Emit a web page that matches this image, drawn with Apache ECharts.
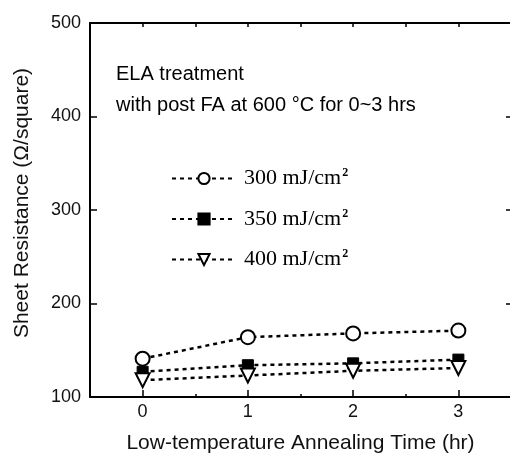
<!DOCTYPE html>
<html>
<head>
<meta charset="utf-8">
<script src="https://cdn.jsdelivr.net/npm/echarts@6/dist/echarts.min.js"></script>
<style>
html,body{margin:0;padding:0;background:#fff;}
#c{width:510px;height:455px;}
</style>
</head>
<body>
<div id="c"></div>
<script>
// ---- data ----
const times = [0, 1, 2, 3];
const r300 = [141, 164, 168, 171];
const r350 = [127, 134, 136, 140];
const r400 = [118, 123, 128, 131];
const seriesNames = ['300 mJ/cm2', '350 mJ/cm2', '400 mJ/cm2'];
const xTickLabels = [0, 1, 2, 3];
const yTicks = [100, 200, 300, 400, 500];
const xTitle = 'Low-temperature Annealing Time (hr)';
const yTitle = 'Sheet Resistance (\u03A9/square)';
const note1 = 'ELA treatment';
const note2 = 'with post FA at 600 \u00B0C for 0~3 hrs';

const pts = v => times.map((t, i) => [t, v[i]]);
const sans = 'Liberation Sans, Arial, sans-serif';
const serif = 'Liberation Serif, Times New Roman, serif';
const dash = { color: '#000', width: 2.5, type: [4, 4] };

const chart = echarts.init(document.getElementById('c'));
chart.setOption({
  animation: false,
  backgroundColor: '#fff',
  grid: { left: 90, right: -1, top: 23, bottom: 58, containLabel: false, outerBoundsMode: 'none' },
  xAxis: [
    {
      type: 'value', min: -0.5, max: 3.5, interval: 0.5, position: 'bottom',
      name: xTitle, nameLocation: 'middle', nameGap: 36,
      nameTextStyle: { fontFamily: sans, fontSize: 21, color: '#111' },
      axisLine: { show: true, onZero: false, lineStyle: { color: '#000', width: 2 } },
      axisTick: { show: true, inside: true, length: 7, customValues: xTickLabels, lineStyle: { color: '#000', width: 1.5 } },
      axisLabel: { customValues: xTickLabels, margin: 6, fontFamily: sans, fontSize: 18, color: '#111' },
      splitLine: { show: false }
    },
    {
      type: 'value', min: -0.5, max: 3.5, interval: 0.5, position: 'bottom',
      axisLine: { show: false, onZero: false },
      axisTick: { show: true, inside: true, length: 3, lineStyle: { color: '#000', width: 1.5 } },
      axisLabel: { show: false },
      splitLine: { show: false }
    },
    {
      type: 'value', min: -0.5, max: 3.5, interval: 0.5, position: 'top',
      axisLine: { show: true, onZero: false, lineStyle: { color: '#000', width: 2 } },
      axisTick: { show: true, inside: true, length: 4, lineStyle: { color: '#000', width: 1.5 } },
      axisLabel: { show: false },
      splitLine: { show: false }
    }
  ],
  yAxis: [
    {
      type: 'value', min: 100, max: 500, interval: 100, position: 'left',
      name: yTitle, nameLocation: 'middle', nameGap: 57,
      nameTextStyle: { fontFamily: sans, fontSize: 21, color: '#111', padding: [0, 0, 0, 14] },
      axisLine: { show: true, onZero: false, lineStyle: { color: '#000', width: 2 } },
      axisTick: { show: true, inside: true, length: 7, lineStyle: { color: '#000', width: 1.5 } },
      axisLabel: { margin: 9, fontFamily: sans, fontSize: 18, color: '#111', padding: [0, 0, 4, 0] },
      splitLine: { show: false }
    },
    {
      type: 'value', min: 100, max: 500, interval: 100, position: 'right',
      axisLine: { show: true, onZero: false, lineStyle: { color: '#000', width: 2 } },
      axisTick: { show: true, inside: true, length: 5, lineStyle: { color: '#000', width: 1.5 } },
      axisLabel: { show: false },
      splitLine: { show: false }
    }
  ],
  legend: {
    orient: 'vertical', left: 166, top: 162, itemGap: 18,
    itemWidth: 64, itemHeight: 14,
    data: seriesNames,
    formatter: n => '{t|' + n.slice(0, -1) + '}{s|' + n.slice(-1) + '}',
    textStyle: {
      rich: {
        t: { fontFamily: serif, fontSize: 22, color: '#000', padding: [0, 0, 0, 3] },
        s: { fontFamily: serif, fontSize: 12, fontWeight: 'bold', color: '#000', verticalAlign: 'top', padding: [0, 0, 11, 1] }
      }
    }
  },
  graphic: [
    { type: 'text', left: 116, top: 64, style: { text: note1, font: '20px ' + sans, fill: '#000' } },
    { type: 'text', left: 116, top: 95, style: { text: note2, font: '20px ' + sans, fill: '#000' } }
  ],
  series: [
    {
      name: seriesNames[0], type: 'line', data: pts(r300),
      symbol: 'circle', symbolSize: 14,
      itemStyle: { color: '#fff', borderColor: '#000', borderWidth: 2 },
      lineStyle: dash, z: 3
    },
    {
      name: seriesNames[1], type: 'line', data: pts(r350),
      symbol: 'rect', symbolSize: 11,
      itemStyle: { color: '#000', borderColor: '#000', borderWidth: 1 },
      lineStyle: dash, z: 3
    },
    {
      name: seriesNames[2], type: 'line', data: pts(r400),
      symbol: 'triangle', symbolSize: 14, symbolRotate: 180,
      itemStyle: { color: '#fff', borderColor: '#000', borderWidth: 2 },
      lineStyle: dash, z: 4
    }
  ]
});
</script>
</body>
</html>
